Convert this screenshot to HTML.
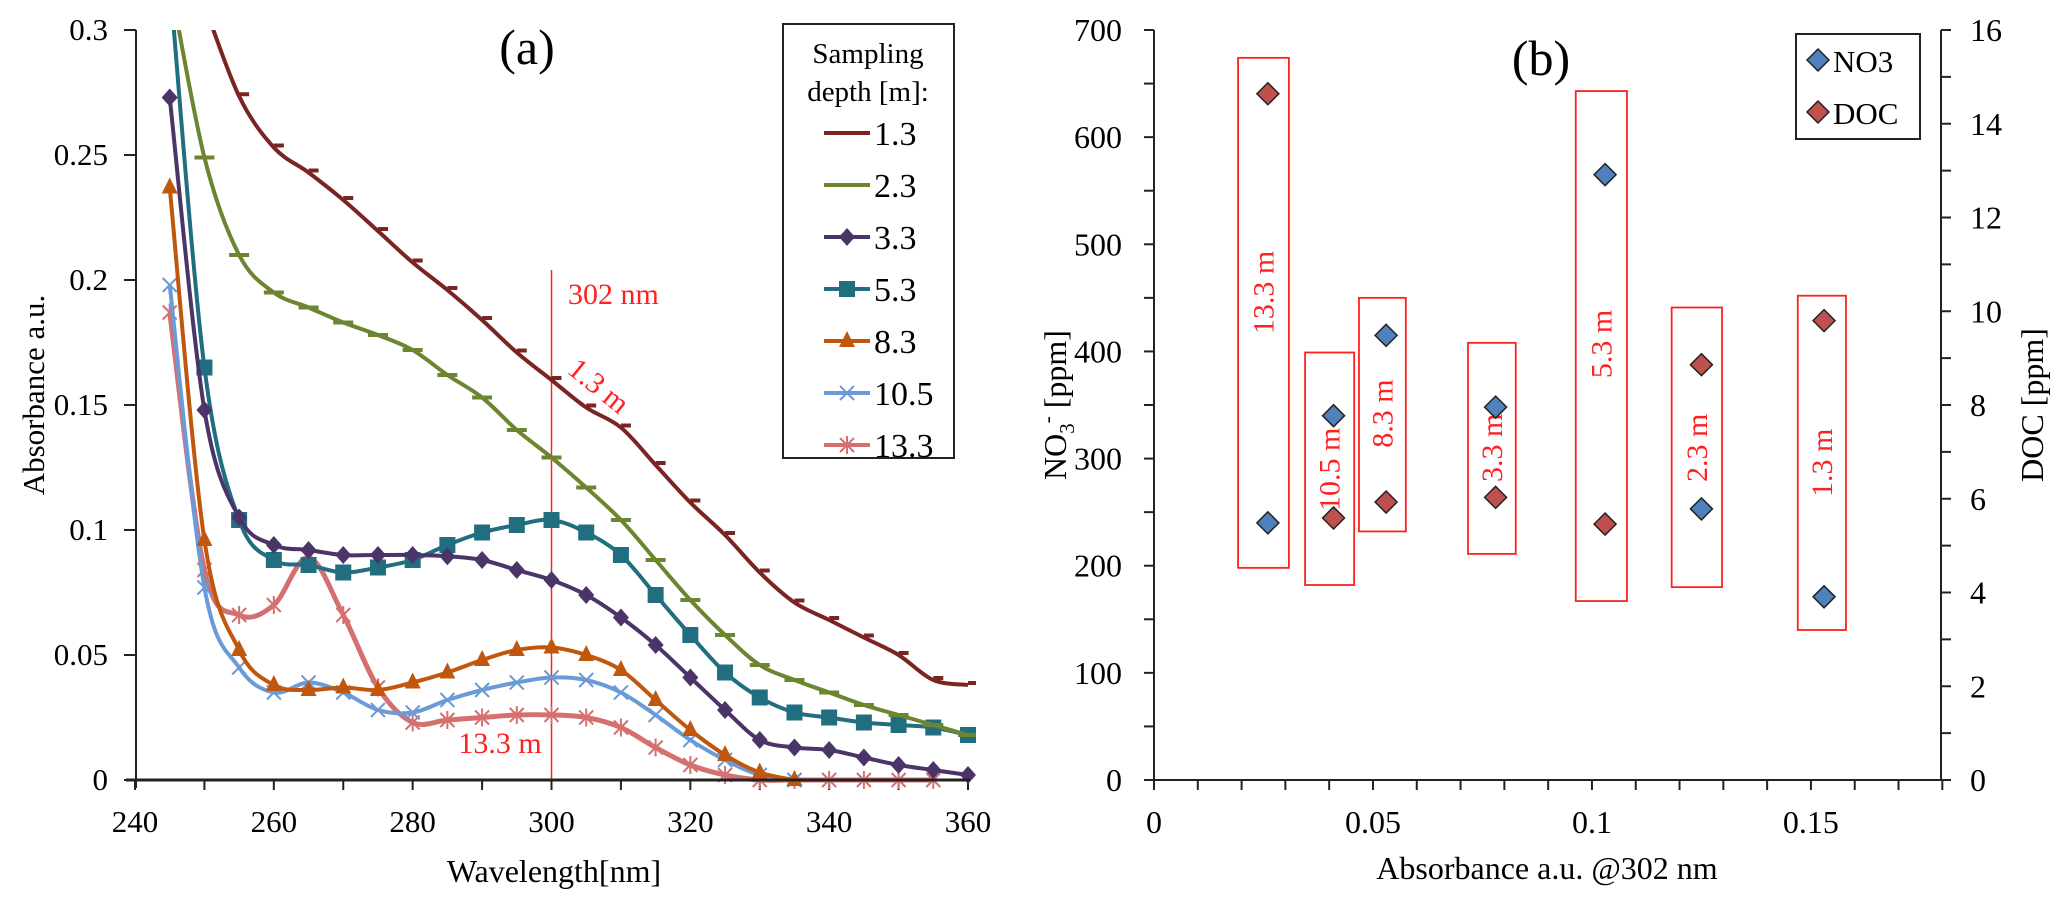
<!DOCTYPE html>
<html><head><meta charset="utf-8"><style>
body{margin:0;background:#fff;}
svg{display:block;}
svg text{font-family:"Liberation Serif","Times New Roman",serif;}
</style></head><body>
<svg id="c" width="2067" height="907" viewBox="0 0 2067 907" xmlns="http://www.w3.org/2000/svg" font-family="Liberation Serif, serif">
<defs><clipPath id="clipA"><rect x="136" y="30" width="840" height="760"/></clipPath></defs>
<g id="pa"></g>
<g id="pb"></g>
</svg>
<script>
// ---------- Panel (a) data ----------
const wl = [245,250,255,260,265,270,275,280,285,290,295,300,305,310,315,320,325,330,335,340,345,350,355,360];
const s13 = [null,0.31,0.2735,0.253,0.243,0.232,0.2196,0.207,0.196,0.184,0.171,0.160,0.149,0.141,0.126,0.111,0.098,0.083,0.071,0.064,0.057,0.050,0.040,0.038];
const s23 = [0.32,0.249,0.21,0.195,0.189,0.183,0.178,0.172,0.162,0.153,0.140,0.129,0.117,0.104,0.088,0.072,0.058,0.046,0.040,0.035,0.030,0.026,0.022,0.018];
const s33 = [0.273,0.148,0.105,0.094,0.092,0.090,0.090,0.090,0.0895,0.088,0.084,0.080,0.074,0.065,0.054,0.041,0.028,0.016,0.013,0.012,0.009,0.006,0.004,0.002];
const s53 = [0.32,0.165,0.104,0.088,0.086,0.083,0.085,0.088,0.094,0.099,0.102,0.104,0.099,0.090,0.074,0.058,0.043,0.033,0.027,0.025,0.023,0.022,0.021,0.018];
const s83 = [0.237,0.096,0.052,0.038,0.036,0.037,0.036,0.039,0.043,0.048,0.052,0.053,0.050,0.044,0.032,0.020,0.010,0.003,0.0,null,null,null,null,null];
const s105 = [0.198,0.077,0.045,0.035,0.039,0.035,0.028,0.027,0.032,0.036,0.039,0.041,0.040,0.035,0.026,0.016,0.008,0.002,0.0,null,null,null,null,null];
const s133 = [0.187,0.084,0.066,0.070,0.089,0.066,0.037,0.023,0.024,0.025,0.026,0.026,0.025,0.021,0.013,0.006,0.002,0.0,0.0,0.0,0.0,0.0,0.0,null];
const seriesNames = ["1.3","2.3","3.3","5.3","8.3","10.5","13.3"];
const xTicksA = [240,260,280,300,320,340,360];
const yTicksA = [0,0.05,0.1,0.15,0.2,0.25,0.3];
const yTickLabelsA = ["0","0.05","0.1","0.15","0.2","0.25","0.3"];
const markLine = 300;

// ---------- Panel (b) data ----------
const depthsB = ["13.3 m","10.5 m","8.3 m","3.3 m","5.3 m","2.3 m","1.3 m"];
const absB = [0.026,0.041,0.053,0.078,0.103,0.125,0.153];
const no3B = [240,340,415,348,565,253,171];
const docB = [14.64,5.59,5.93,6.03,5.46,8.86,9.80];
const boxX0 = [0.0192,0.0345,0.0468,0.0717,0.0963,0.1182,0.1470];
const boxX1 = [0.0308,0.0457,0.0575,0.0826,0.1080,0.1297,0.1580];
const boxY0 = [198,182,232,211,167,180,140];
const boxY1 = [674,399,450,408,643,441,452];
const labY = [455,290,342,310,407,310,296];
const xTicksB = [0,0.05,0.1,0.15];
const xTickLabelsB = ["0","0.05","0.1","0.15"];
const yTicksB = [0,100,200,300,400,500,600,700];
const y2TicksB = [0,2,4,6,8,10,12,14,16];

const NS="http://www.w3.org/2000/svg";
function mk(parent,tag,attrs,text){const e=document.createElementNS(NS,tag);for(const k in attrs)e.setAttribute(k,attrs[k]);if(text!==undefined)e.textContent=text;parent.appendChild(e);return e;}

// ===== Panel A =====
const pa=document.getElementById('pa');
const xA=v=>135+(v-240)/120*833;
const yA=v=>780-v/0.3*750;
let ax=mk(pa,'line',{x1:136,y1:30,x2:136,y2:788,stroke:'#222','stroke-width':2});

yTicksA.forEach((v,i)=>{
  let t=mk(pa,'line',{x1:124,y1:yA(v),x2:136,y2:yA(v),stroke:'#222','stroke-width':2});
  
  let l=mk(pa,'text',{x:108,y:yA(v)+10,'text-anchor':'end','font-size':31},yTickLabelsA[i]);
  
});
for(let v=240;v<=360;v+=10){
  let t=mk(pa,'line',{x1:xA(v),y1:780,x2:xA(v),y2:790,stroke:'#222','stroke-width':2});
  
}
xTicksA.forEach(v=>{
  let l=mk(pa,'text',{x:xA(v),y:832,'text-anchor':'middle','font-size':31},String(v));
  
});
let xt=mk(pa,'text',{x:554,y:882,'text-anchor':'middle','font-size':32},'Wavelength[nm]');

let yt=mk(pa,'text',{x:0,y:0,'text-anchor':'middle','font-size':31,transform:'translate(44,395) rotate(-90)'},'Absorbance a.u.');

let ttl=mk(pa,'text',{x:527,y:64,'text-anchor':'middle','font-size':50},'(a)');


let rl=mk(pa,'line',{x1:xA(markLine),y1:270,x2:xA(markLine),y2:780,stroke:'#ff2020','stroke-width':1.5});

let rt=mk(pa,'text',{x:568,y:304,'font-size':30,fill:'#ff2020'},'302 nm');


const colors=['#7a2424','#6b8530','#4a3468','#216e80','#c0570c','#6a9bd8','#d47070'];
const markers=['dash','dash2','diamond','square','triangle','x','star'];
const allS=[s13,s23,s33,s53,s83,s105,s133];

function spline(pts){
  if(pts.length<2)return '';
  let d='M'+pts[0][0]+','+pts[0][1];
  for(let i=0;i<pts.length-1;i++){
    const p0=pts[i-1]||pts[i],p1=pts[i],p2=pts[i+1],p3=pts[i+2]||p2;
    const c1=[p1[0]+(p2[0]-p0[0])/6,p1[1]+(p2[1]-p0[1])/6];
    const c2=[p2[0]-(p3[0]-p1[0])/6,p2[1]-(p3[1]-p1[1])/6];
    d+=' C'+c1[0]+','+c1[1]+' '+c2[0]+','+c2[1]+' '+p2[0]+','+p2[1];
  }
  return d;
}
function drawMarker(g,type,x,y,col){
  let e;
  if(type==='dash'){e=mk(g,'path',{d:`M${x},${y-4} h10 v4 h-10z`,fill:col});}
  else if(type==='dash2'){e=mk(g,'path',{d:`M${x-10},${y-2} h20 v4 h-20z`,fill:col});}
  else if(type==='diamond'){e=mk(g,'path',{d:`M${x},${y-9} L${x+8},${y} L${x},${y+9} L${x-8},${y}Z`,fill:col});}
  else if(type==='square'){e=mk(g,'rect',{x:x-8,y:y-8,width:16,height:16,fill:col});}
  else if(type==='triangle'){e=mk(g,'path',{d:`M${x},${y-10} L${x+8},${y+6} L${x-8},${y+6}Z`,fill:col});}
  else if(type==='x'){e=mk(g,'path',{d:`M${x-7},${y-7} L${x+7},${y+7} M${x+7},${y-7} L${x-7},${y+7}`,stroke:col,'stroke-width':2});}
  else {e=mk(g,'path',{d:`M${x-7},${y-7} L${x+7},${y+7} M${x+7},${y-7} L${x-7},${y+7} M${x},${y-9} L${x},${y+9}`,stroke:col,'stroke-width':2});}
  
  
}
const plotG=mk(pa,'g',{'clip-path':'url(#clipA)'});

for(let k=allS.length-1;k>=0;k--){
  const s=allS[k];const pts=[];
  s.forEach((v,i)=>{if(v!==null)pts.push([xA(wl[i]),yA(v)]);});
  const g=mk(plotG,'g',{});
  
  
  const p=mk(g,'path',{d:spline(pts),fill:'none',stroke:colors[k],'stroke-width':k===6?5:4});
  
  
  pts.forEach(q=>drawMarker(g,markers[k],q[0],q[1],colors[k]));
}
let xl=mk(pa,'line',{x1:126,y1:780,x2:970,y2:780,stroke:'#222','stroke-width':3});

let l13=mk(pa,'text',{x:0,y:0,'font-size':30,fill:'#ff2020',transform:'translate(566,372) rotate(39)'},'1.3 m');

let l133=mk(pa,'text',{x:500,y:753,'text-anchor':'middle','font-size':30,fill:'#ff2020'},'13.3 m');


const lg=mk(pa,'g',{});

mk(lg,'rect',{x:783,y:24,width:171,height:434,fill:'#fff',stroke:'#222','stroke-width':2});
mk(lg,'text',{x:868,y:63,'text-anchor':'middle','font-size':29},'Sampling');
mk(lg,'text',{x:868,y:101,'text-anchor':'middle','font-size':29},'depth [m]:');
const legY=[133,185,237,289,341,393,445];
seriesNames.forEach((n,i)=>{
  const e=mk(lg,'g',{});
  
  
  mk(e,'line',{x1:824,y1:legY[i],x2:870,y2:legY[i],stroke:colors[i],'stroke-width':4});
  if(i>=2)drawMarker(e,markers[i],847,legY[i],colors[i]);
  mk(e,'text',{x:874,y:legY[i]+12,'font-size':34},n);
});

// ===== Panel B =====
const pb=document.getElementById('pb');
const xB=v=>1154+v/0.1797*787;
const yB=v=>780-v/700*750;
const y2B=v=>780-v/16*750;
let bl=mk(pb,'line',{x1:1154,y1:30,x2:1154,y2:780,stroke:'#222','stroke-width':2});

let br=mk(pb,'line',{x1:1941,y1:30,x2:1941,y2:780,stroke:'#222','stroke-width':2});

let bx=mk(pb,'line',{x1:1154,y1:780,x2:1941,y2:780,stroke:'#222','stroke-width':2});

for(let v=0;v<=700;v+=50){
  let t=mk(pb,'line',{x1:1144,y1:yB(v),x2:1154,y2:yB(v),stroke:'#222','stroke-width':2});
  
}
yTicksB.forEach(v=>{
  let l=mk(pb,'text',{x:1122,y:yB(v)+11,'text-anchor':'end','font-size':32},String(v));
  
});
for(let v=0;v<=16;v+=1){
  let t=mk(pb,'line',{x1:1941,y1:y2B(v),x2:1951,y2:y2B(v),stroke:'#222','stroke-width':2});
  
}
y2TicksB.forEach(v=>{
  let l=mk(pb,'text',{x:1970,y:y2B(v)+11,'font-size':32},String(v));
  
});
for(let v=0;v<=0.1801;v+=0.01){
  let t=mk(pb,'line',{x1:xB(v),y1:780,x2:xB(v),y2:790,stroke:'#222','stroke-width':2});
  
}
xTicksB.forEach((v,i)=>{
  let l=mk(pb,'text',{x:xB(v),y:833,'text-anchor':'middle','font-size':32},xTickLabelsB[i]);
  
});
let bxt=mk(pb,'text',{x:1547,y:879,'text-anchor':'middle','font-size':32},'Absorbance a.u. @302 nm');

let byt=mk(pb,'text',{x:0,y:0,'text-anchor':'middle','font-size':32,transform:'translate(1066,405) rotate(-90)'});

byt.innerHTML='NO<tspan font-size="21" dy="8">3</tspan><tspan font-size="21" dy="-20">-</tspan><tspan dy="12"> [ppm]</tspan>';
let by2=mk(pb,'text',{x:0,y:0,'text-anchor':'middle','font-size':32,transform:'translate(2043,405) rotate(-90)'},'DOC [ppm]');

let bt=mk(pb,'text',{x:1541,y:75,'text-anchor':'middle','font-size':50},'(b)');


depthsB.forEach((d,i)=>{
  const x0=xB(boxX0[i]),x1=xB(boxX1[i]),yy0=yB(boxY1[i]),yy1=yB(boxY0[i]);
  const r=mk(pb,'rect',{x:x0,y:yy0,width:x1-x0,height:yy1-yy0,fill:'none',stroke:'#ff2020','stroke-width':1.8});
  
  
  const cx=(x0+x1)/2,cy=yB(labY[i]);
  const t=mk(pb,'text',{x:0,y:0,'text-anchor':'middle','font-size':30,fill:'#ff2020',transform:`translate(${cx+10},${cy}) rotate(-90)`},d);
  
  
});
function diamond(g,x,y,col,name){
  const e=mk(g,'path',{d:`M${x},${y-11} L${x+11},${y} L${x},${y+11} L${x-11},${y}Z`,fill:col,stroke:'#222','stroke-width':1.5});
  
  
}
absB.forEach((a,i)=>{
  diamond(pb,xB(a),yB(no3B[i]),'#4f81bd','no3-point');
  diamond(pb,xB(a),y2B(docB[i]),'#c0504d','doc-point');
});
const lb=mk(pb,'g',{});

mk(lb,'rect',{x:1796,y:34,width:124,height:105,fill:'#fff',stroke:'#222','stroke-width':2});
diamond(lb,1818,60,'#4f81bd','legend-no3-marker');
mk(lb,'text',{x:1833,y:72,'font-size':31},'NO3');
diamond(lb,1818,112,'#c0504d','legend-doc-marker');
mk(lb,'text',{x:1833,y:124,'font-size':31},'DOC');
</script>
</body></html>
